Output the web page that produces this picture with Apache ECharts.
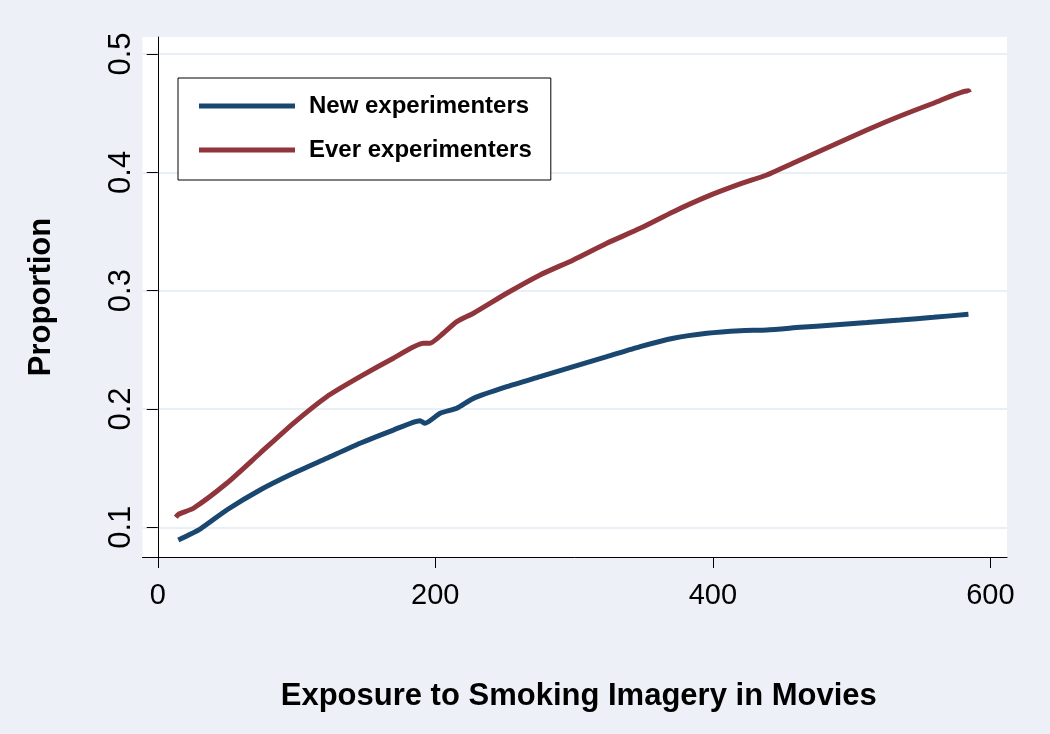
<!DOCTYPE html>
<html>
<head>
<meta charset="utf-8">
<script src="https://cdn.jsdelivr.net/npm/echarts@6/dist/echarts.min.js"></script>
<style>
  html, body { margin: 0; padding: 0; background: #edf1f7; }
  #chart { width: 1050px; height: 734px; }
</style>
</head>
<body>
<div id="chart"></div>
<script>
// exposure values (x) and proportions (y)
const newX = [14.8, 30.5, 49.7, 73.7, 97.7, 121.8, 145.8, 169.8, 189.0, 192.6, 203.5, 215.5, 227.5, 251.5, 275.5, 299.5, 323.6, 347.6, 371.6, 395.7, 419.7, 438.9, 462.9, 486.9, 511.0, 535.0, 559.0, 584.2];
const newY = [0.0893, 0.0985, 0.1146, 0.1315, 0.1456, 0.1583, 0.1710, 0.1822, 0.1901, 0.1879, 0.1964, 0.2006, 0.2090, 0.2188, 0.2273, 0.2358, 0.2442, 0.2527, 0.2598, 0.2640, 0.2662, 0.2668, 0.2690, 0.2710, 0.2730, 0.2752, 0.2775, 0.2800];

const everX = [13.0, 15.0, 25.7, 49.7, 73.7, 97.7, 121.8, 145.8, 169.8, 191.4, 196.0, 205.8, 215.5, 227.5, 251.5, 275.5, 299.5, 323.6, 347.6, 371.6, 395.7, 419.7, 438.9, 462.9, 486.9, 511.0, 535.0, 559.0, 584.2, 585.0];
const everY = [0.1085, 0.1110, 0.1161, 0.1372, 0.1626, 0.1879, 0.2104, 0.2273, 0.2429, 0.2555, 0.2555, 0.2640, 0.2738, 0.2809, 0.2978, 0.3133, 0.3260, 0.3401, 0.3527, 0.3668, 0.3795, 0.3902, 0.3978, 0.4105, 0.4231, 0.4358, 0.4476, 0.4584, 0.4690, 0.4675];

const xTicks = [0, 200, 400, 600];
const yTicks = [0.1, 0.2, 0.3, 0.4, 0.5];

const pairs = (xs, ys) => xs.map((x, i) => [x, ys[i]]);

const chart = echarts.init(document.getElementById("chart"));

const option = {
  backgroundColor: "#edf1f7",
  animation: false,
  textStyle: { fontFamily: "Liberation Sans, Arial, sans-serif" },
  grid: {
    left: 142.5, right: 43, top: 37, bottom: 177,
    show: true, backgroundColor: "#ffffff", borderWidth: 0,
  },
  legend: {
    orient: "vertical",
    left: 178, top: 78,
    padding: [16, 19, 18, 21],
    itemGap: 20,
    itemWidth: 96, itemHeight: 5,
    icon: "rect",
    backgroundColor: "#ffffff",
    borderColor: "#000000", borderWidth: 1,
    textStyle: { fontSize: 24, fontWeight: "bold", color: "#000", padding: [0, 0, 0, 9] },
    data: ["New experimenters", "Ever experimenters"],
  },
  xAxis: {
    type: "value",
    min: -11, max: 612,
    name: "Exposure to Smoking Imagery in Movies",
    nameLocation: "middle",
    nameGap: 124,
    nameTextStyle: { fontSize: 31, fontWeight: "bold", color: "#000", padding: [0, 0, 0, 8] },
    axisLine: { show: true, lineStyle: { color: "#000", width: 1 } },
    axisTick: { show: true, length: 11, customValues: xTicks, lineStyle: { color: "#000" } },
    axisLabel: { fontSize: 29, color: "#000", margin: 24, customValues: xTicks },
    splitLine: { show: false },
  },
  yAxis: {
    type: "value",
    min: 0.0749, max: 0.5144,
    name: "Proportion",
    nameLocation: "middle",
    nameRotate: 90,
    nameGap: 86,
    nameTextStyle: { fontSize: 31, fontWeight: "bold", color: "#000" },
    axisLine: { show: true, lineStyle: { color: "#000", width: 1 } },
    axisTick: { show: true, length: 11, customValues: yTicks, lineStyle: { color: "#000" } },
    axisLabel: {
      fontSize: 31, color: "#000", margin: 6, rotate: 90,
      customValues: yTicks,
      formatter: (v) => v.toFixed(1),
    },
    splitLine: { show: true, lineStyle: { color: "#e9eff6", width: 2 } },
  },
  series: [
    {
      name: "New experimenters",
      type: "line",
      data: pairs(newX, newY),
      showSymbol: false,
      smooth: 0.2,
      lineStyle: { color: "#1a476f", width: 5 },
      itemStyle: { color: "#1a476f" },
    },
    {
      name: "Ever experimenters",
      type: "line",
      data: pairs(everX, everY),
      showSymbol: false,
      smooth: 0.2,
      lineStyle: { color: "#90353b", width: 5 },
      itemStyle: { color: "#90353b" },
    },
  ],
};

chart.setOption(option);
</script>
</body>
</html>
